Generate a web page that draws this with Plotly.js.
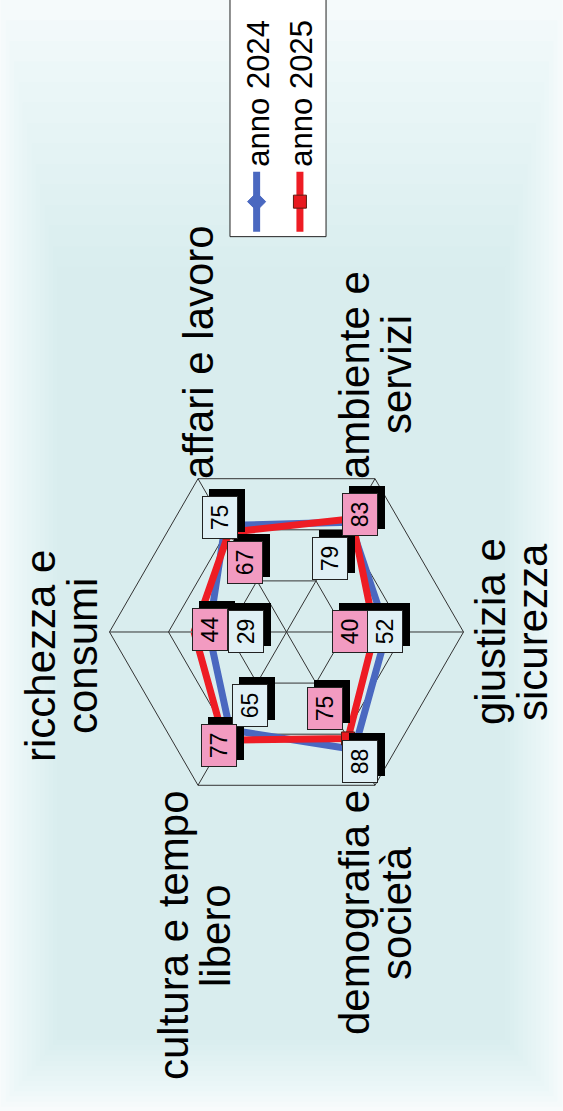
<!DOCTYPE html>
<html>
<head>
<meta charset="utf-8">
<script src="https://cdn.plot.ly/plotly-3.0.1.min.js"></script>
<style>
    html, body { margin: 0; padding: 0; width: 563px; height: 1111px; overflow: hidden; background: #f8fbfc; }
    /* the chart is drawn landscape and turned a quarter left, like the original picture */
    #chart { position: absolute; left: 0; top: 0; width: 1111px; height: 563px;
             transform-origin: 0 0; transform: translateY(1111px) rotate(-90deg); }
</style>
</head>
<body>
<div id="chart"></div>
<script>
const categories = ['ricchezza e<br>consumi', 'affari e lavoro', 'ambiente e<br>servizi',
                    'giustizia e<br>sicurezza', 'demografia e<br>società', 'cultura e tempo<br>libero'];
const values2024 = [29, 75, 79, 52, 88, 65];
const values2025 = [44, 67, 83, 40, 75, 77];
const seriesNames = ['anno 2024', 'anno 2025'];
const radialRange = [-50, 130];
const radialTicks = [10, 70, 130];

// pixel shift of each value box from its point (boxes were moved by hand in the original)
const boxShift2024 = [[0, 37], [8, -5], [-36, -20], [0, -2], [-12, 6], [24, 20]];
const boxShift2025 = [[2, 16], [-30, 16], [4, 8], [0, -25], [30, -23], [-5, -5]];
// extra nudge for the category labels, [x, y] pixels (y down)
const labelNudge = [[-24, 0], [0, 0], [0, 0], [0, 0], [-5, 0], [-5, -4]];

const FONT = 'Liberation Sans, Arial, sans-serif';
const LABEL_SIZE = 42;
const LINE_GAP = 42;

class RadarChart {
    constructor() {
        this.domainX = [0.2718, 0.5905];
        this.domainY = [0.1767, 0.8055];
        this.series = [
            { name: seriesNames[0], values: values2024, color: '#4a68c0', symbol: 'diamond',
              marker: '#4a68c0', box: '#e0f0f5', shift: boxShift2024 },
            { name: seriesNames[1], values: values2025, color: '#ee1c24', symbol: 'square',
              marker: '#e8191f', box: '#f29bc1', shift: boxShift2025 }
        ];
        this.ctx = document.createElement('canvas').getContext('2d');
        this.ctx.font = LABEL_SIZE + 'px "Liberation Sans"';
        this.render();
    }

    closed(arr) {
        return arr.concat([arr[0]]);
    }

    angle(i) {
        return (90 - i * 360 / categories.length) * Math.PI / 180;
    }

    buildTraces() {
        const traces = this.series.map(s => ({
            type: 'scatterpolar',
            r: this.closed(s.values),
            theta: this.closed(categories),
            mode: 'lines+markers',
            name: s.name,
            line: { color: s.color, width: 7 },
            marker: {
                symbol: s.symbol,
                size: s.symbol === 'square' ? 13 : 14,
                color: s.marker,
                line: { color: s.symbol === 'square' ? '#5a1a10' : s.color, width: 1 }
            },
            hoverinfo: 'skip'
        }));

        // empty cartesian trace so the boxes and labels can use an x/y frame laid over the polar one
        traces.push({ type: 'scatter', x: [], y: [], showlegend: false, hoverinfo: 'skip' });
        return traces;
    }

    pointXY(value, i) {
        const frac = (value - radialRange[0]) / (radialRange[1] - radialRange[0]);
        return [frac * Math.cos(this.angle(i)), frac * Math.sin(this.angle(i))];
    }

    buildValueBoxes() {
        const shadows = [];
        const boxes = [];
        this.series.forEach(s => {
            s.values.forEach((v, i) => {
                const [x, y] = this.pointXY(v, i);
                const base = {
                    x: x, y: y, xref: 'x', yref: 'y',
                    text: String(v),
                    showarrow: true, arrowcolor: 'rgba(0,0,0,0)', arrowwidth: 0.1,
                    width: 41, height: 34, borderpad: 0, borderwidth: 1,
                    font: { size: 23, color: '#000' }
                };
                shadows.push(Object.assign({}, base, {
                    ax: s.shift[i][0] + 7, ay: s.shift[i][1] + 7,
                    bgcolor: '#000', bordercolor: '#000'
                }));
                boxes.push(Object.assign({}, base, {
                    ax: s.shift[i][0], ay: s.shift[i][1],
                    bgcolor: s.box, bordercolor: '#222'
                }));
            });
        });
        return shadows.concat(boxes);
    }

    // one annotation per line so the line spacing can be tighter than plotly's own
    buildCategoryLabels() {
        const out = [];
        categories.forEach((c, i) => {
            const cx = Math.cos(this.angle(i));
            const cy = Math.sin(this.angle(i));
            const lines = c.split('<br>');
            const blockW = Math.max(...lines.map(l => this.ctx.measureText(l).width));

            let dx = 0;
            if (cx > 0.1) dx = blockW / 2;
            else if (cx < -0.1) dx = -blockW / 2;

            lines.forEach((line, k) => {
                let dy;
                if (cy > 0.9) dy = -27 - (lines.length - 1 - k) * LINE_GAP;
                else if (cy < -0.9) dy = 27 + k * LINE_GAP;
                else dy = (k - (lines.length - 1) / 2) * LINE_GAP;

                out.push({
                    x: cx, y: cy, xref: 'x', yref: 'y',
                    text: line,
                    showarrow: false,
                    xanchor: 'center', yanchor: 'middle',
                    xshift: dx + labelNudge[i][0],
                    yshift: -(dy + labelNudge[i][1]),
                    font: { size: LABEL_SIZE, color: '#000' }
                });
            });
        });
        return out;
    }

    buildBackground() {
        // soft pale-blue wash that fades out towards the edges
        const shapes = [];
        const steps = 14;
        for (let k = 0; k < steps; k++) {
            const t = k / (steps - 1);
            shapes.push({
                type: 'rect', xref: 'paper', yref: 'paper', layer: 'below',
                x0: 0.004 + 0.06 * t, x1: 1.0 - 0.24 * t,
                y0: 0.002 + 0.1 * t, y1: 0.998 - 0.1 * t,
                line: { width: 0 }, fillcolor: 'rgba(200,232,238,0.055)'
            });
        }
        // legend frame, running off the edge of the picture like in the original
        shapes.push({
            type: 'rect', xref: 'paper', yref: 'paper', layer: 'above',
            x0: 0.787, x1: 1.05, y0: 0.4209, y1: 0.5915,
            line: { color: '#222', width: 1 }, fillcolor: '#fff'
        });
        return shapes;
    }

    render() {
        const layout = {
            width: 1111,
            height: 563,
            margin: { l: 0, r: 0, t: 0, b: 0 },
            paper_bgcolor: '#f8fbfc',
            plot_bgcolor: 'rgba(0,0,0,0)',
            font: { family: FONT, color: '#000' },
            polar: {
                domain: { x: this.domainX, y: this.domainY },
                bgcolor: 'rgba(0,0,0,0)',
                gridshape: 'linear',
                radialaxis: {
                    range: radialRange,
                    tickmode: 'array',
                    tickvals: radialTicks,
                    showticklabels: false,
                    ticks: '',
                    showline: false,
                    gridcolor: '#333',
                    gridwidth: 1
                },
                angularaxis: {
                    type: 'category',
                    categoryarray: categories,
                    rotation: 90,
                    direction: 'clockwise',
                    showline: true,
                    linecolor: '#333',
                    linewidth: 1,
                    gridcolor: '#333',
                    gridwidth: 1,
                    ticks: '',
                    showticklabels: false
                }
            },
            xaxis: { domain: this.domainX, range: [-1, 1], visible: false, fixedrange: true },
            yaxis: { domain: this.domainY, range: [-1, 1], visible: false, fixedrange: true },
            showlegend: true,
            legend: {
                x: 0.787, xanchor: 'left',
                y: 0.5915, yanchor: 'top',
                bgcolor: 'rgba(0,0,0,0)',
                borderwidth: 0,
                font: { size: 31, color: '#000' },
                itemwidth: 60
            },
            shapes: this.buildBackground(),
            annotations: this.buildValueBoxes().concat(this.buildCategoryLabels())
        };

        Plotly.newPlot('chart', this.buildTraces(), layout, { displayModeBar: false, staticPlot: true });
    }
}

new RadarChart();
</script>
</body>
</html>
